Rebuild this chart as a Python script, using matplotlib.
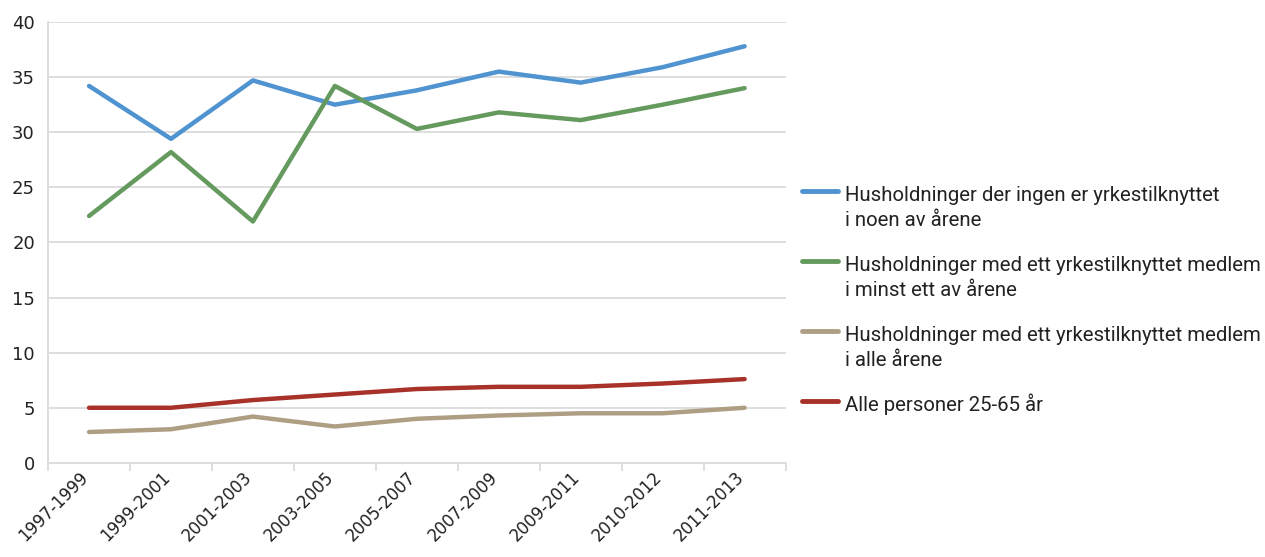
import numpy as np
import matplotlib
matplotlib.use("Agg")
import matplotlib.pyplot as plt
from matplotlib.lines import Line2D
from matplotlib.transforms import ScaledTranslation

# data
periods = ["1997-1999", "1999-2001", "2001-2003", "2003-2005", "2005-2007",
           "2007-2009", "2009-2011", "2010-2012", "2011-2013"]
ingen = [34.2, 29.4, 34.7, 32.5, 33.8, 35.5, 34.5, 35.9, 37.8]
minst_ett = [22.4, 28.2, 21.9, 34.2, 30.3, 31.8, 31.1, 32.5, 34.0]
alle_aar = [2.8, 3.05, 4.2, 3.3, 4.0, 4.3, 4.5, 4.5, 5.0]
alle_personer = [5.0, 5.0, 5.7, 6.2, 6.7, 6.9, 6.9, 7.2, 7.6]

series = [
    (ingen, "#4f93d0", "Husholdninger der ingen er yrkestilknyttet\ni noen av årene"),
    (minst_ett, "#659a5e", "Husholdninger med ett yrkestilknyttet medlem\ni minst ett av årene"),
    (alle_aar, "#ae9f84", "Husholdninger med ett yrkestilknyttet medlem\ni alle årene"),
    (alle_personer, "#a8312a", "Alle personer 25-65 år"),
]

fig = plt.figure(figsize=(12.65, 5.57), dpi=100)
ax = fig.add_axes([0.038, 0.169, 0.583, 0.7915])

x = np.arange(len(periods))
for vals, col, lab in series:
    ax.plot(x, vals, color=col, linewidth=3.2, solid_capstyle="round", zorder=3)

grid_col = "#dedede"
ax.set_ylim(0, 40)
ax.set_xlim(-0.5, len(periods) - 0.5)
ax.set_yticks(range(0, 41, 5))
ax.yaxis.grid(True, color=grid_col, linewidth=1.4)
ax.set_axisbelow(True)
for s in ["top", "right"]:
    ax.spines[s].set_visible(False)
ax.spines["left"].set_color(grid_col)
ax.spines["bottom"].set_color(grid_col)
ax.spines["left"].set_linewidth(1.4)
ax.spines["bottom"].set_linewidth(1.4)
ax.tick_params(axis="y", length=0, labelsize=13, pad=9.5, colors="#222222")

# category labels centred, tick marks at the boundaries
ax.set_xticks(x)
ax.set_xticklabels(periods, rotation=45, ha="right", va="top",
                   rotation_mode="anchor", fontsize=12, color="#222222")
ax.tick_params(axis="x", length=0, pad=4)
ax.set_xticks(np.arange(-0.5, len(periods), 1), minor=True)
ax.tick_params(axis="x", which="minor", length=6, color=grid_col, width=1.4)
off = ScaledTranslation(-0.10, 0, fig.dpi_scale_trans)
for t in ax.get_xticklabels():
    t.set_transform(t.get_transform() + off)

# legend drawn by hand so the key line sits on the first text line
W, H = 1265, 557
leg_y = [191, 261, 331, 401]
for (vals, col, lab), yy in zip(series, leg_y):
    fy = 1 - yy / H
    fig.add_artist(Line2D([802 / W, 838 / W], [fy, fy], color=col,
                          linewidth=3.5, solid_capstyle="round",
                          transform=fig.transFigure))
    for i, line in enumerate(lab.split("\n")):
        fig.text(845 / W, fy - (10 + 25 * i) / H, line, ha="left",
                 va="baseline", fontsize=14.7, family="Roboto",
                 color="#222222")

fig.savefig("out.png", dpi=100)
